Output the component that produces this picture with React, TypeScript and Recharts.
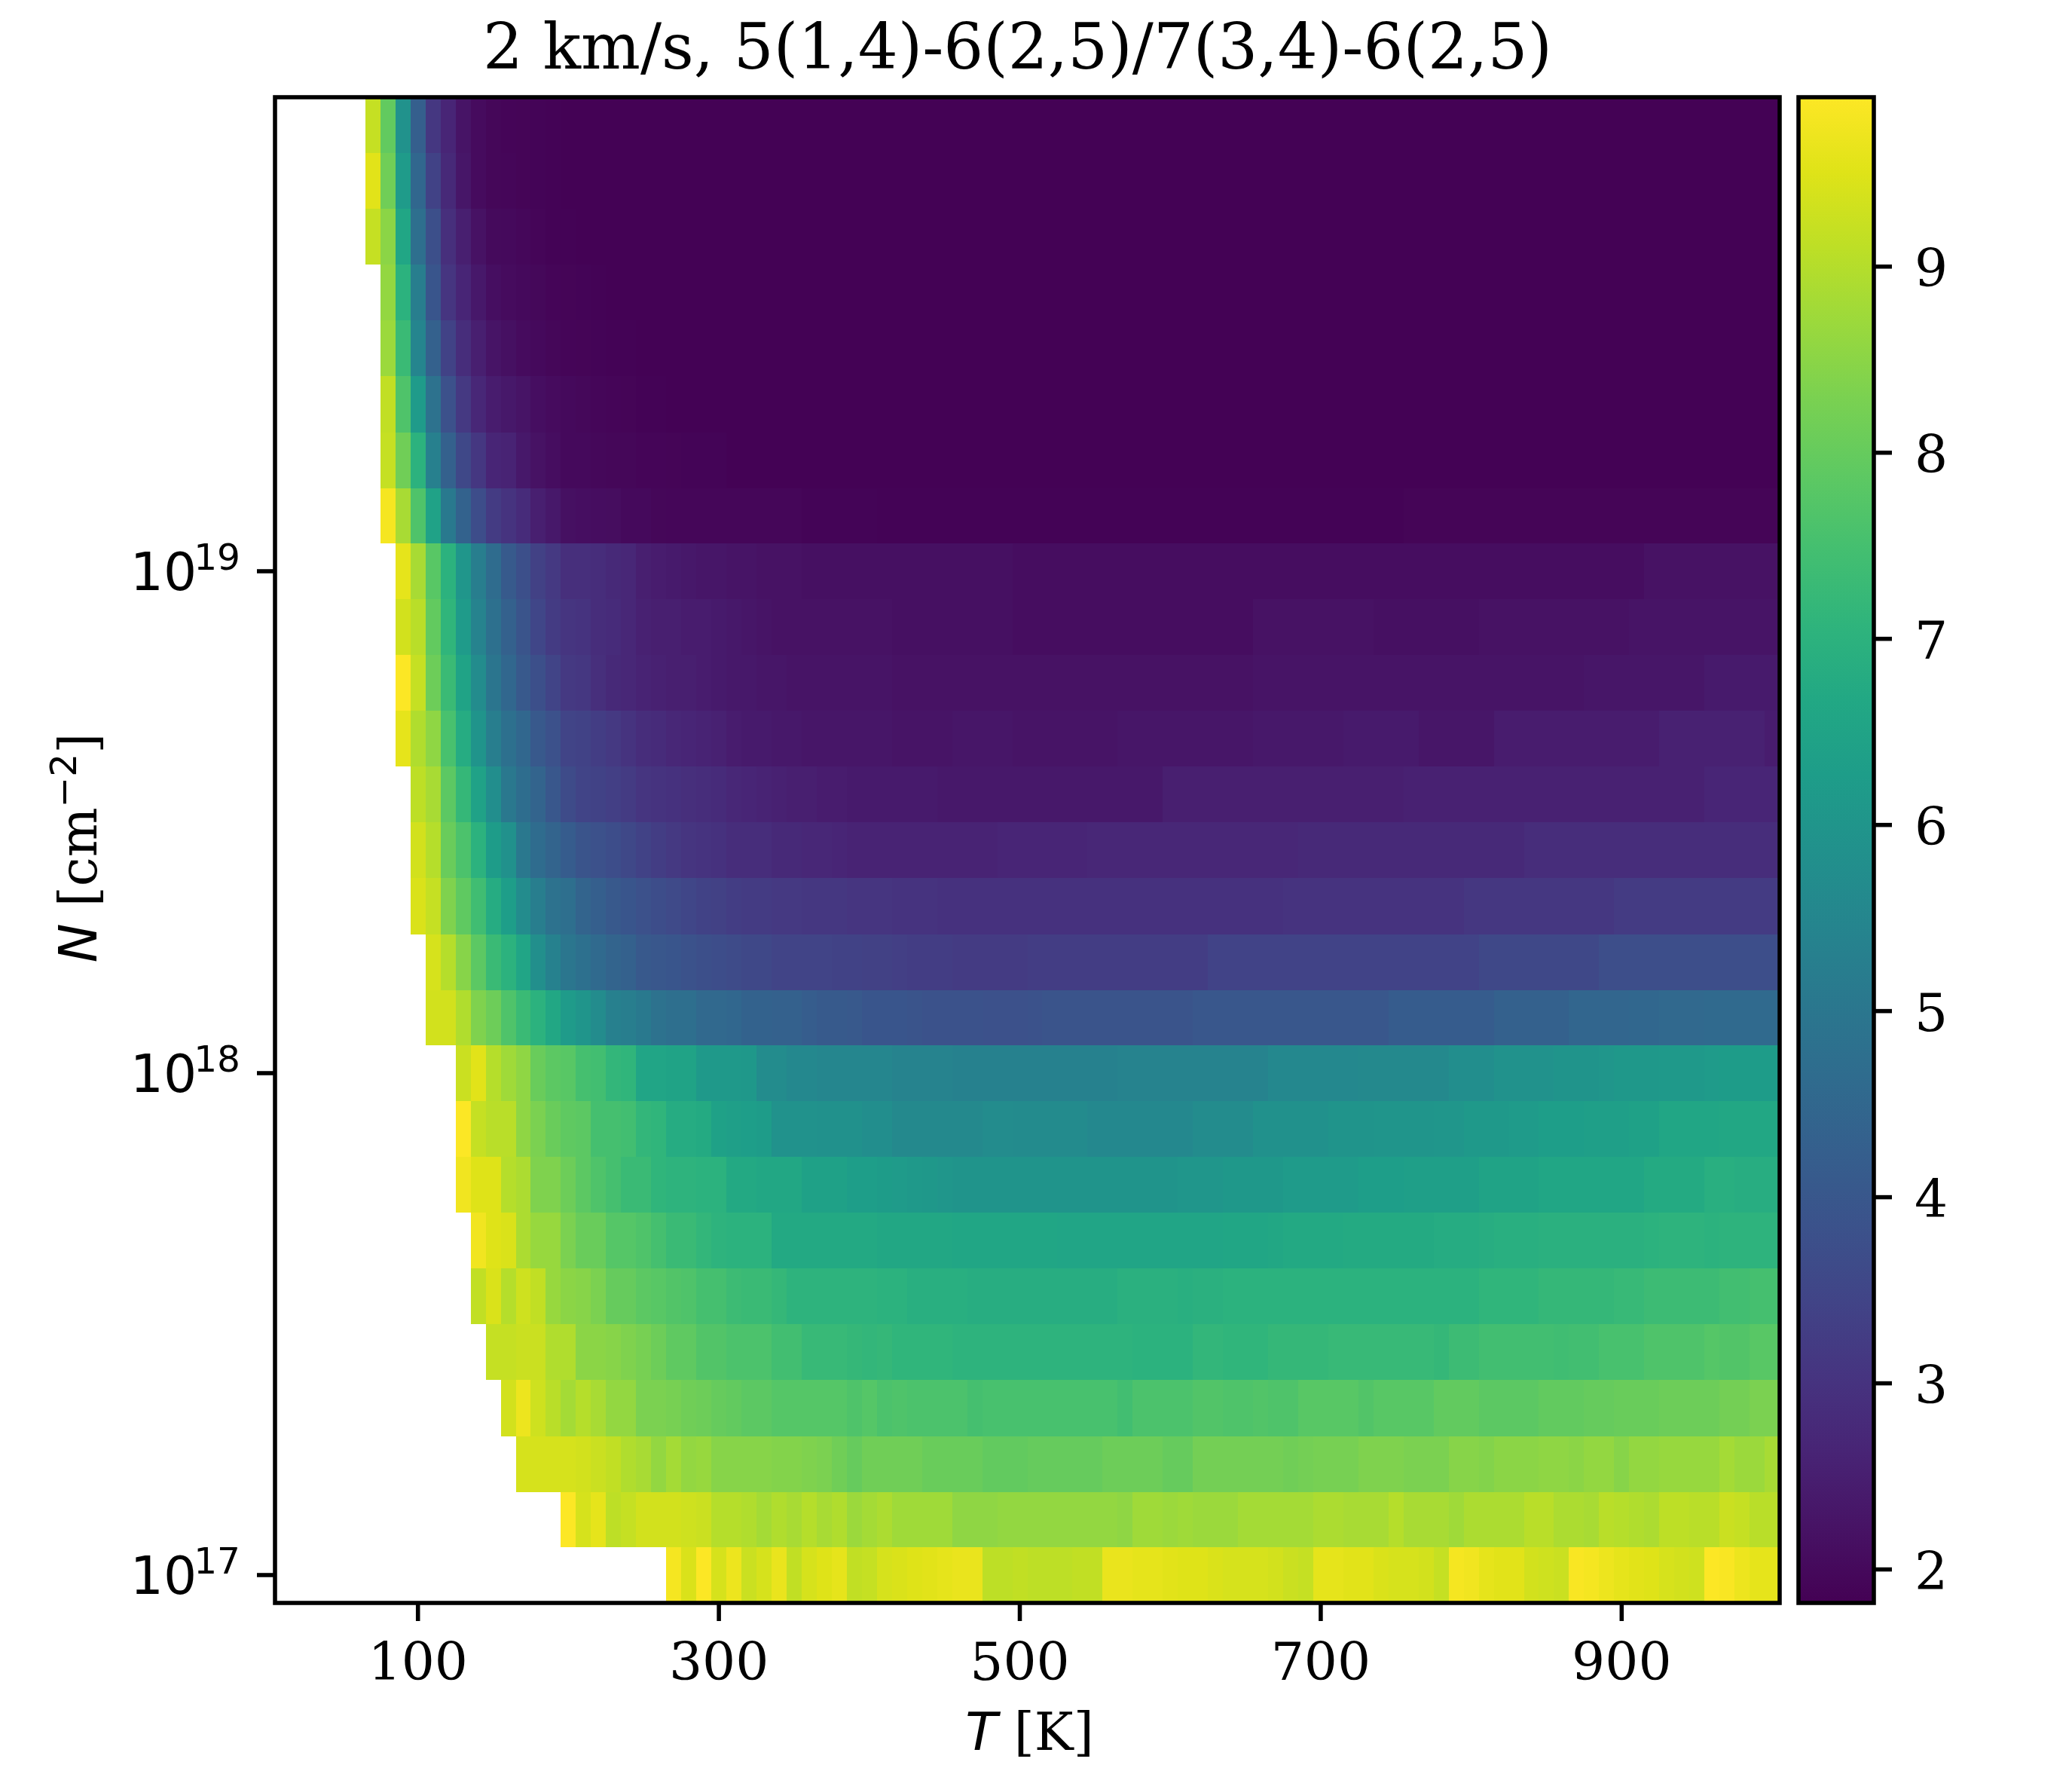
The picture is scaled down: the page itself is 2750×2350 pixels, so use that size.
import { BarChart, Bar, Scatter, ScatterChart, XAxis, YAxis } from "recharts";

// N [cm^-2] of each map row, bottom to top
const columnDensity = [
  1e17, 1.292e17, 1.668e17, 2.154e17, 2.783e17, 3.594e17, 4.642e17, 5.995e17, 7.743e17,
  1e18, 1.292e18, 1.668e18, 2.154e18, 2.783e18, 3.594e18, 4.642e18, 5.995e18, 7.743e18,
  1e19, 1.292e19, 1.668e19, 2.154e19, 2.783e19, 3.594e19, 4.642e19, 5.995e19, 7.743e19,
];

// first temperature [K] with a value in each row, the rest follow every 10 K
const firstTemp = [270, 200, 170, 160, 150, 140, 140, 130, 130, 130, 110, 110, 100, 100, 100, 90, 90, 90, 90, 80, 80, 80, 80, 80, 70, 70, 70];

const row0 = [9.8,9.45,9.9,9.4,
  9.7,9.25,9.4,9.65,9.15,9.4,9.5,9.6,9.15,9.2,
  9.4,9.45,9.5,9.55,9.6,9.65,9.65,9.1,9.1,9.15,
  9.1,9.1,9.1,9.15,9.15,9.65,9.65,9.6,9.6,9.55,
  9.5,9.5,9.45,9.4,9.4,9.4,9.35,9.25,9.2,9.6,
  9.6,9.55,9.55,9.45,9.4,9.4,9.35,9.2,9.8,9.75,
  9.6,9.55,9.55,9.35,9.3,9.25,9.85,9.8,9.7,9.6,
  9.55,9.5,9.4,9.35,9.3,9.9,9.85,9.7,9.6,9.6];
const row1 = [9.9,
  9.4,9.6,9.1,9.2,9.35,9.35,9.35,9.3,9.25,9.0,
  9.0,8.95,8.8,8.95,8.85,9.0,8.85,8.95,8.7,8.8,
  8.9,8.75,8.75,8.75,8.75,8.55,8.55,8.55,8.6,8.6,
  8.6,8.6,8.6,8.6,8.6,8.6,8.55,8.75,8.75,8.7,
  8.75,8.7,8.7,8.7,8.8,8.8,8.8,8.8,8.8,8.9,
  8.9,8.85,8.85,8.85,9.0,8.85,8.85,8.85,8.75,8.9,
  8.9,8.9,8.9,9.05,9.05,8.9,8.9,8.85,9.05,9.0,
  8.95,8.9,9.1,9.1,9.05,9.05,9.25,9.2,9.05,9.05];
const row2 = [9.4,9.4,9.4,9.4,
  9.35,9.25,9.15,8.95,8.85,8.6,8.8,8.6,8.65,8.45,
  8.45,8.45,8.45,8.4,8.4,8.35,8.3,8.15,8.0,8.15,
  8.15,8.15,8.15,8.05,8.05,8.05,8.05,7.95,7.95,7.95,
  8.0,8.0,8.0,8.0,8.0,8.1,8.1,8.1,8.1,8.0,
  8.0,8.2,8.2,8.2,8.2,8.2,8.2,8.15,8.2,8.25,
  8.25,8.25,8.35,8.35,8.35,8.3,8.3,8.3,8.45,8.45,
  8.4,8.5,8.5,8.5,8.55,8.55,8.5,8.6,8.6,8.45,
  8.6,8.6,8.65,8.65,8.65,8.65,8.8,8.7,8.7,8.85];
const row3 = [9.35,9.7,9.3,9.05,8.8,
  9.0,8.85,8.6,8.6,8.3,8.3,8.25,8.15,8.1,8.0,
  7.95,7.85,7.85,7.75,7.75,7.75,7.75,7.75,7.65,7.75,
  7.6,7.65,7.6,7.6,7.6,7.6,7.5,7.55,7.55,7.55,
  7.55,7.55,7.55,7.55,7.55,7.55,7.45,7.6,7.6,7.6,
  7.6,7.7,7.7,7.65,7.65,7.7,7.65,7.65,7.8,7.8,
  7.8,7.8,7.7,7.8,7.8,7.8,7.8,7.95,7.95,7.95,
  7.85,7.85,7.85,7.85,7.95,7.95,7.95,8.0,8.0,8.05,
  8.05,8.05,8.1,8.1,8.1,8.1,8.2,8.2,8.3,8.3];
const row4 = [9.2,9.2,9.25,9.25,8.95,8.95,
  8.5,8.5,8.45,8.35,8.25,8.1,7.9,7.9,7.7,7.7,
  7.6,7.6,7.6,7.45,7.45,7.25,7.25,7.25,7.2,7.15,
  7.2,7.1,7.1,7.1,7.1,7.05,7.05,7.05,7.05,7.05,
  7.05,7.05,7.05,7.05,7.05,7.05,7.05,7.0,7.0,7.0,
  7.0,7.15,7.15,7.1,7.1,7.1,7.2,7.2,7.2,7.2,
  7.25,7.25,7.25,7.25,7.25,7.25,7.25,7.2,7.35,7.35,
  7.45,7.45,7.45,7.45,7.45,7.4,7.45,7.45,7.55,7.55,
  7.55,7.65,7.65,7.65,7.65,7.75,7.7,7.7,7.8,7.8];
const row5 = [9.15,9.45,9.0,9.3,9.15,8.65,8.5,
  8.45,8.3,8.0,8.0,7.85,7.8,7.7,7.65,7.5,7.5,
  7.35,7.3,7.3,7.2,7.05,7.05,7.05,7.05,7.05,7.05,
  7.0,7.0,6.9,6.9,6.9,6.9,6.85,6.85,6.85,6.85,
  6.85,6.85,6.85,6.85,6.85,6.85,6.95,6.95,6.95,6.95,
  6.9,6.95,6.95,7.0,7.0,7.0,7.0,7.0,7.0,7.0,
  7.0,7.0,7.0,7.0,7.0,7.0,7.0,7.0,7.0,7.0,
  7.1,7.1,7.1,7.1,7.2,7.2,7.2,7.2,7.2,7.25,
  7.25,7.35,7.35,7.35,7.35,7.35,7.45,7.45,7.5,7.5];
const row6 = [9.75,9.5,9.45,8.9,8.65,8.65,8.3,
  8.05,8.05,7.75,7.75,7.65,7.5,7.3,7.3,7.15,7.05,
  7.0,7.0,7.0,6.7,6.7,6.7,6.7,6.7,6.7,6.7,
  6.65,6.65,6.65,6.65,6.65,6.6,6.6,6.6,6.6,6.6,
  6.6,6.6,6.55,6.55,6.55,6.55,6.55,6.55,6.55,6.55,
  6.55,6.55,6.55,6.6,6.6,6.6,6.65,6.7,6.7,6.7,
  6.7,6.75,6.75,6.75,6.75,6.75,6.75,6.8,6.8,6.8,
  6.85,6.9,6.9,6.9,6.95,6.95,6.95,6.95,6.95,6.95,
  6.95,7.0,7.05,7.05,7.05,7.0,7.05,7.05,7.05,7.05];
const row7 = [9.75,9.5,9.5,9.0,8.9,8.35,8.35,8.1,
  7.85,7.65,7.5,7.3,7.3,7.1,7.05,7.05,7.0,7.0,
  6.7,6.7,6.65,6.65,6.65,6.4,6.4,6.4,6.3,6.3,
  6.25,6.2,6.15,6.1,6.05,5.95,5.95,5.95,5.95,5.95,
  5.95,5.95,5.95,5.95,5.95,5.95,5.95,5.95,5.95,5.95,
  6.05,6.05,6.05,6.1,6.1,6.1,6.1,6.2,6.2,6.2,
  6.2,6.2,6.3,6.3,6.3,6.35,6.35,6.35,6.35,6.35,
  6.5,6.5,6.5,6.5,6.6,6.6,6.6,6.6,6.6,6.6,
  6.6,6.75,6.75,6.75,6.75,6.9,6.9,6.85,6.85,6.85];
const row8 = [9.9,9.2,9.05,9.05,8.55,8.3,8.05,7.9,
  7.85,7.5,7.5,7.45,7.15,7.1,6.8,6.8,6.75,6.4,
  6.35,6.3,6.25,5.9,5.9,5.9,5.85,5.85,5.85,5.75,
  5.75,5.6,5.6,5.6,5.6,5.6,5.6,5.7,5.7,5.65,
  5.65,5.65,5.65,5.65,5.55,5.55,5.55,5.55,5.55,5.55,
  5.55,5.7,5.7,5.7,5.7,5.85,5.85,5.85,5.85,5.85,
  5.95,5.95,5.95,6.0,6.0,6.0,6.0,6.05,6.05,6.15,
  6.15,6.15,6.2,6.2,6.3,6.3,6.3,6.35,6.35,6.35,
  6.4,6.4,6.6,6.6,6.6,6.6,6.65,6.65,6.65,6.65];
const row9 = [9.25,9.55,9.0,8.75,8.55,8.05,7.85,7.8,
  7.5,7.45,7.15,7.1,6.55,6.55,6.5,6.5,6.15,6.15,
  6.15,6.1,5.7,5.7,5.55,5.55,5.5,5.5,5.5,5.5,
  5.5,5.4,5.4,5.4,5.4,5.35,5.35,5.35,5.35,5.35,
  5.35,5.35,5.35,5.35,5.35,5.35,5.4,5.4,5.4,5.4,
  5.4,5.4,5.4,5.4,5.4,5.4,5.55,5.55,5.55,5.55,
  5.55,5.55,5.6,5.6,5.6,5.6,5.6,5.6,5.75,5.75,
  5.75,5.9,5.9,5.9,5.9,5.95,5.95,5.95,6.05,6.1,
  6.1,6.1,6.15,6.15,6.15,6.2,6.25,6.25,6.25,6.25];
const row10 = [9.35,9.35,8.95,8.35,8.1,7.65,7.3,7.0,6.65,6.2,
  6.0,5.7,5.3,5.25,5.1,4.85,4.75,4.75,4.55,4.55,
  4.5,4.35,4.35,4.3,4.3,4.2,4.1,4.1,4.05,3.95,
  3.95,3.95,3.9,3.85,3.85,3.85,3.85,3.8,3.8,3.8,
  3.85,3.9,3.9,3.9,3.9,3.9,3.9,3.9,3.9,3.9,
  3.9,4.0,4.0,4.0,4.0,4.0,4.0,4.0,4.0,4.0,
  4.0,4.0,4.0,4.0,4.15,4.15,4.15,4.15,4.15,4.15,
  4.15,4.3,4.3,4.3,4.3,4.3,4.45,4.45,4.45,4.45,
  4.5,4.5,4.55,4.55,4.55,4.6,4.6,4.6,4.6,4.6];
const row11 = [9.4,9.0,8.45,7.85,7.3,7.0,6.55,5.8,5.35,5.0,
  4.8,4.6,4.4,4.3,4.05,4.0,3.95,3.85,3.75,3.7,
  3.65,3.55,3.55,3.45,3.45,3.45,3.45,3.4,3.4,3.35,
  3.35,3.3,3.25,3.25,3.25,3.2,3.2,3.2,3.2,3.2,
  3.25,3.25,3.25,3.25,3.25,3.25,3.25,3.25,3.25,3.25,
  3.25,3.25,3.42,3.42,3.42,3.42,3.42,3.42,3.42,3.42,
  3.42,3.42,3.42,3.42,3.42,3.42,3.42,3.42,3.42,3.42,
  3.55,3.55,3.55,3.55,3.55,3.55,3.55,3.55,3.72,3.72,
  3.72,3.72,3.72,3.72,3.72,3.72,3.72,3.72,3.72,3.72];
const row12 = [9.45,
  9.2,8.35,7.9,7.4,6.8,6.3,5.7,5.25,4.85,4.75,
  4.4,4.25,4.05,3.95,3.8,3.7,3.6,3.5,3.4,3.35,
  3.25,3.2,3.2,3.15,3.15,3.1,3.1,3.1,3.05,3.05,
  3.05,3.0,3.0,3.0,2.95,2.95,2.95,2.95,2.95,2.95,
  2.95,2.95,2.95,2.95,2.95,2.95,2.95,2.95,2.95,2.95,
  2.95,2.95,2.95,2.95,2.95,2.95,2.95,3.0,3.0,3.0,
  3.0,3.0,3.0,3.0,3.0,3.0,3.0,3.0,3.0,3.1,
  3.1,3.1,3.1,3.1,3.1,3.1,3.1,3.1,3.1,3.22,
  3.22,3.22,3.22,3.22,3.22,3.22,3.22,3.22,3.22,3.22];
const row13 = [9.35,
  9.0,8.05,7.6,7.0,6.25,5.85,5.05,4.65,4.4,4.15,
  3.9,3.8,3.7,3.55,3.4,3.25,3.15,3.05,3.0,2.95,
  2.85,2.85,2.85,2.75,2.75,2.7,2.7,2.65,2.6,2.6,
  2.6,2.6,2.6,2.6,2.6,2.6,2.6,2.6,2.65,2.65,
  2.65,2.65,2.65,2.65,2.7,2.7,2.7,2.7,2.7,2.7,
  2.7,2.7,2.7,2.7,2.7,2.7,2.7,2.7,2.75,2.75,
  2.75,2.75,2.75,2.75,2.75,2.75,2.75,2.75,2.75,2.75,
  2.75,2.75,2.75,2.85,2.85,2.85,2.85,2.85,2.85,2.85,
  2.85,2.85,2.85,2.85,2.85,2.85,2.85,2.85,2.85,2.85];
const row14 = [9.1,
  8.85,7.85,7.2,6.45,5.75,5.05,4.7,4.4,4.0,3.65,
  3.45,3.4,3.3,3.2,3.05,3.0,2.95,2.9,2.85,2.8,
  2.7,2.65,2.6,2.55,2.5,2.5,2.45,2.45,2.4,2.4,
  2.4,2.4,2.4,2.4,2.35,2.35,2.35,2.35,2.35,2.35,
  2.35,2.35,2.35,2.35,2.35,2.35,2.35,2.35,2.35,2.5,
  2.5,2.5,2.5,2.5,2.5,2.5,2.5,2.5,2.5,2.5,
  2.5,2.5,2.5,2.5,2.5,2.55,2.55,2.55,2.55,2.55,
  2.55,2.55,2.55,2.55,2.55,2.55,2.55,2.55,2.55,2.55,
  2.55,2.55,2.55,2.55,2.55,2.65,2.65,2.65,2.65,2.65];
const row15 = [9.6,8.95,
  8.55,7.55,6.8,5.95,5.25,4.8,4.5,4.05,3.8,3.45,
  3.4,3.25,3.15,3.0,2.85,2.8,2.7,2.65,2.6,2.55,
  2.45,2.4,2.4,2.35,2.35,2.3,2.3,2.3,2.3,2.3,
  2.3,2.25,2.25,2.25,2.25,2.3,2.3,2.3,2.3,2.25,
  2.25,2.25,2.25,2.25,2.25,2.25,2.3,2.3,2.3,2.3,
  2.3,2.3,2.3,2.3,2.3,2.35,2.35,2.35,2.35,2.35,
  2.35,2.4,2.4,2.4,2.4,2.4,2.3,2.3,2.3,2.3,
  2.3,2.45,2.45,2.45,2.45,2.45,2.45,2.45,2.45,2.45,
  2.45,2.45,2.55,2.55,2.55,2.55,2.55,2.55,2.55,2.45];
const row16 = [9.9,9.2,
  8.1,7.3,6.5,5.7,4.95,4.5,4.05,3.75,3.45,3.15,
  3.1,2.9,2.75,2.7,2.6,2.55,2.5,2.5,2.45,2.4,
  2.35,2.35,2.3,2.3,2.25,2.25,2.25,2.25,2.25,2.25,
  2.25,2.2,2.2,2.2,2.2,2.2,2.2,2.2,2.2,2.2,
  2.2,2.2,2.2,2.2,2.2,2.2,2.2,2.2,2.2,2.2,
  2.2,2.2,2.2,2.2,2.2,2.25,2.25,2.25,2.25,2.25,
  2.25,2.25,2.25,2.25,2.25,2.25,2.25,2.25,2.25,2.25,
  2.25,2.25,2.25,2.25,2.25,2.25,2.25,2.3,2.3,2.3,
  2.3,2.3,2.3,2.3,2.3,2.4,2.4,2.4,2.4,2.4];
const row17 = [9.35,9.05,
  7.95,7.1,6.2,5.4,4.8,4.3,3.9,3.5,3.2,3.05,
  3.0,2.85,2.8,2.7,2.55,2.5,2.5,2.45,2.45,2.4,
  2.35,2.3,2.25,2.2,2.2,2.2,2.2,2.2,2.2,2.2,
  2.2,2.15,2.15,2.15,2.15,2.15,2.15,2.15,2.15,2.1,
  2.1,2.1,2.1,2.1,2.1,2.1,2.1,2.1,2.1,2.1,
  2.1,2.1,2.1,2.1,2.1,2.2,2.2,2.2,2.2,2.2,
  2.2,2.2,2.2,2.15,2.15,2.15,2.15,2.15,2.15,2.15,
  2.2,2.2,2.2,2.2,2.2,2.2,2.2,2.2,2.2,2.2,
  2.25,2.25,2.25,2.25,2.25,2.25,2.25,2.25,2.25,2.25];
const row18 = [9.6,8.85,
  7.8,7.0,6.05,5.25,4.65,4.1,3.75,3.35,3.15,2.9,
  2.9,2.85,2.75,2.7,2.5,2.45,2.4,2.35,2.3,2.3,
  2.25,2.25,2.2,2.2,2.2,2.15,2.15,2.15,2.15,2.15,
  2.15,2.15,2.15,2.15,2.15,2.15,2.15,2.15,2.15,2.1,
  2.1,2.1,2.1,2.1,2.1,2.1,2.1,2.1,2.1,2.1,
  2.1,2.1,2.1,2.1,2.1,2.1,2.1,2.1,2.1,2.1,
  2.1,2.1,2.1,2.1,2.1,2.1,2.1,2.1,2.1,2.1,
  2.1,2.1,2.1,2.1,2.1,2.1,2.1,2.1,2.1,2.1,
  2.1,2.2,2.2,2.2,2.2,2.2,2.2,2.2,2.2,2.2];
const row19 = [9.8,8.85,7.65,
  6.45,5.1,4.35,3.7,3.2,3.0,2.8,2.5,2.35,2.15,
  2.12,2.1,2.08,2.0,2.0,1.95,1.93,1.93,1.93,1.93,
  1.93,1.93,1.93,1.93,1.93,1.88,1.88,1.88,1.88,1.88,
  1.87,1.87,1.87,1.87,1.87,1.87,1.87,1.87,1.87,1.87,
  1.87,1.87,1.87,1.87,1.87,1.87,1.87,1.87,1.87,1.87,
  1.87,1.87,1.87,1.87,1.87,1.87,1.87,1.87,1.87,1.87,
  1.87,1.87,1.87,1.87,1.87,1.9,1.9,1.9,1.9,1.9,
  1.9,1.9,1.9,1.9,1.9,1.9,1.9,1.9,1.9,1.9,
  1.9,1.9,1.9,1.9,1.9,1.9,1.9,1.9,1.9,1.9];
const row20 = [9.2,8.15,7.0,
  5.3,4.3,3.55,3.1,2.65,2.6,2.35,2.2,2.1,2.0,
  2.0,1.97,1.95,1.95,1.92,1.92,1.9,1.88,1.88,1.88,
  1.85,1.85,1.85,1.85,1.85,1.85,1.85,1.85,1.85,1.85,
  1.85,1.85,1.85,1.85,1.85,1.85,1.85,1.85,1.85,1.85,
  1.85,1.85,1.85,1.85,1.85,1.85,1.85,1.85,1.85,1.85,
  1.85,1.85,1.85,1.85,1.85,1.85,1.85,1.85,1.85,1.85,
  1.85,1.85,1.85,1.85,1.85,1.85,1.85,1.85,1.85,1.85,
  1.85,1.85,1.85,1.85,1.85,1.85,1.85,1.85,1.85,1.85,
  1.85,1.85,1.85,1.85,1.85,1.85,1.85,1.85,1.85,1.85];
const row21 = [9.15,7.65,6.2,
  4.85,3.8,3.15,2.7,2.45,2.35,2.25,2.12,2.05,2.0,
  1.97,1.94,1.92,1.9,1.87,1.87,1.85,1.85,1.85,1.85,
  1.85,1.85,1.85,1.85,1.85,1.85,1.85,1.85,1.85,1.85,
  1.85,1.85,1.85,1.85,1.85,1.85,1.85,1.85,1.85,1.85,
  1.85,1.85,1.85,1.85,1.85,1.85,1.85,1.85,1.85,1.85,
  1.85,1.85,1.85,1.85,1.85,1.85,1.85,1.85,1.85,1.85,
  1.85,1.85,1.85,1.85,1.85,1.85,1.85,1.85,1.85,1.85,
  1.85,1.85,1.85,1.85,1.85,1.85,1.85,1.85,1.85,1.85,
  1.85,1.85,1.85,1.85,1.85,1.85,1.85,1.85,1.85,1.85];
const row22 = [8.7,7.3,5.45,
  4.3,3.4,2.85,2.5,2.25,2.15,2.05,2.0,1.95,1.92,
  1.9,1.88,1.87,1.87,1.85,1.85,1.85,1.85,1.85,1.85,
  1.85,1.85,1.85,1.85,1.85,1.85,1.85,1.85,1.85,1.85,
  1.85,1.85,1.85,1.85,1.85,1.85,1.85,1.85,1.85,1.85,
  1.85,1.85,1.85,1.85,1.85,1.85,1.85,1.85,1.85,1.85,
  1.85,1.85,1.85,1.85,1.85,1.85,1.85,1.85,1.85,1.85,
  1.85,1.85,1.85,1.85,1.85,1.85,1.85,1.85,1.85,1.85,
  1.85,1.85,1.85,1.85,1.85,1.85,1.85,1.85,1.85,1.85,
  1.85,1.85,1.85,1.85,1.85,1.85,1.85,1.85,1.85,1.85];
const row23 = [8.6,7.0,5.25,
  3.95,3.05,2.65,2.35,2.12,2.05,2.0,1.97,1.92,1.9,
  1.88,1.87,1.85,1.85,1.85,1.85,1.85,1.85,1.85,1.85,
  1.85,1.85,1.85,1.85,1.85,1.85,1.85,1.85,1.85,1.85,
  1.85,1.85,1.85,1.85,1.85,1.85,1.85,1.85,1.85,1.85,
  1.85,1.85,1.85,1.85,1.85,1.85,1.85,1.85,1.85,1.85,
  1.85,1.85,1.85,1.85,1.85,1.85,1.85,1.85,1.85,1.85,
  1.85,1.85,1.85,1.85,1.85,1.85,1.85,1.85,1.85,1.85,
  1.85,1.85,1.85,1.85,1.85,1.85,1.85,1.85,1.85,1.85,
  1.85,1.85,1.85,1.85,1.85,1.85,1.85,1.85,1.85,1.85];
const row24 = [9.2,8.5,6.6,4.75,
  3.75,2.9,2.5,2.2,2.02,2.0,1.96,1.92,1.87,1.86,
  1.85,1.85,1.85,1.85,1.85,1.85,1.85,1.85,1.85,1.85,
  1.85,1.85,1.85,1.85,1.85,1.85,1.85,1.85,1.85,1.85,
  1.85,1.85,1.85,1.85,1.85,1.85,1.85,1.85,1.85,1.85,
  1.85,1.85,1.85,1.85,1.85,1.85,1.85,1.85,1.85,1.85,
  1.85,1.85,1.85,1.85,1.85,1.85,1.85,1.85,1.85,1.85,
  1.85,1.85,1.85,1.85,1.85,1.85,1.85,1.85,1.85,1.85,
  1.85,1.85,1.85,1.85,1.85,1.85,1.85,1.85,1.85,1.85,
  1.85,1.85,1.85,1.85,1.85,1.85,1.85,1.85,1.85,1.85];
const row25 = [9.55,8.15,6.2,4.5,
  3.4,2.75,2.3,2.05,1.95,1.93,1.9,1.88,1.86,1.85,
  1.85,1.85,1.85,1.85,1.85,1.85,1.85,1.85,1.85,1.85,
  1.85,1.85,1.85,1.85,1.85,1.85,1.85,1.85,1.85,1.85,
  1.85,1.85,1.85,1.85,1.85,1.85,1.85,1.85,1.85,1.85,
  1.85,1.85,1.85,1.85,1.85,1.85,1.85,1.85,1.85,1.85,
  1.85,1.85,1.85,1.85,1.85,1.85,1.85,1.85,1.85,1.85,
  1.85,1.85,1.85,1.85,1.85,1.85,1.85,1.85,1.85,1.85,
  1.85,1.85,1.85,1.85,1.85,1.85,1.85,1.85,1.85,1.85,
  1.85,1.85,1.85,1.85,1.85,1.85,1.85,1.85,1.85,1.85];
const row26 = [9.2,7.95,5.9,4.25,
  3.1,2.65,2.25,2.05,1.95,1.92,1.9,1.88,1.86,1.85,
  1.85,1.85,1.85,1.85,1.85,1.85,1.85,1.85,1.85,1.85,
  1.85,1.85,1.85,1.85,1.85,1.85,1.85,1.85,1.85,1.85,
  1.85,1.85,1.85,1.85,1.85,1.85,1.85,1.85,1.85,1.85,
  1.85,1.85,1.85,1.85,1.85,1.85,1.85,1.85,1.85,1.85,
  1.85,1.85,1.85,1.85,1.85,1.85,1.85,1.85,1.85,1.85,
  1.85,1.85,1.85,1.85,1.85,1.85,1.85,1.85,1.85,1.85,
  1.85,1.85,1.85,1.85,1.85,1.85,1.85,1.85,1.85,1.85,
  1.85,1.85,1.85,1.85,1.85,1.85,1.85,1.85,1.85,1.85];

const rows = [
  row0, row1, row2, row3, row4, row5, row6, row7, row8,
  row9, row10, row11, row12, row13, row14, row15, row16, row17,
  row18, row19, row20, row21, row22, row23, row24, row25, row26,
];

const tempTicks = [100, 300, 500, 700, 900];
const densityTicks = [1e17, 1e18, 1e19];
const colorTicks = [2, 3, 4, 5, 6, 7, 8, 9];
const colorRange = [1.82, 9.91];

const viridis = [
  "#440154", "#471365", "#482475", "#463480", "#414487", "#3b528b", "#355f8d",
  "#2f6c8e", "#2a788e", "#25858e", "#21918c", "#1e9d89", "#22a884", "#2fb47c",
  "#44bf70", "#5ec962", "#7ad151", "#9bd93c", "#bddf26", "#dfe318", "#fde725",
];

const W = 2750;
const H = 2350;
const LEFT = 365;
const RIGHT = 2362;
const TOP = 129;
const BOTTOM = 2127;
const BAR_LEFT = 2387;
const BAR_RIGHT = 2487;
const CELL_W = (RIGHT - LEFT) / 100;
const CELL_H = (BOTTOM - TOP) / 27;
const SPINE = 5.55;
const TICK_FONT = 69.4;
const SERIF = "'DejaVu Serif'";
const SANS = "'DejaVu Sans'";

function hex(c: string) {
  return [1, 3, 5].map((i) => parseInt(c.slice(i, i + 2), 16));
}

function colorOf(v: number) {
  const t = Math.min(1, Math.max(0, (v - colorRange[0]) / (colorRange[1] - colorRange[0]))) * (viridis.length - 1);
  const i = Math.min(viridis.length - 2, Math.floor(t));
  const a = hex(viridis[i]);
  const b = hex(viridis[i + 1]);
  const m = a.map((x, k) => Math.round(x + (b[k] - x) * (t - i)));
  return `rgb(${m[0]},${m[1]},${m[2]})`;
}

const cells = rows.flatMap((row, i) =>
  row.map((v, j) => ({ t: firstTemp[i] + 10 * j, n: columnDensity[i], v }))
);

const Cell = ({ cx, cy, payload }: any) => (
  <rect
    x={cx - CELL_W / 2}
    y={cy - CELL_H / 2}
    width={CELL_W + 0.5}
    height={CELL_H + 0.5}
    fill={colorOf(payload.v)}
    shapeRendering="crispEdges"
  />
);

const TempTick = ({ x, y, payload }: any) => (
  <text x={x} y={y + 76} textAnchor="middle" fontFamily={SERIF} fontSize={TICK_FONT} fill="#000">
    {payload.value}
  </text>
);

const DensityTick = ({ x, y, payload }: any) => (
  <text x={x - 20} y={y + 25} textAnchor="end" fontFamily={SANS} fontSize={TICK_FONT} fill="#000">
    10
    <tspan dx={-4} dy={-27} fontSize={48.6}>
      {Math.round(Math.log10(payload.value))}
    </tspan>
  </text>
);

const ColorTick = ({ x, y, payload }: any) => (
  <text x={x + 28} y={y + 26} textAnchor="start" fontFamily={SERIF} fontSize={TICK_FONT} fill="#000">
    {payload.value}
  </text>
);

const layer = { position: "absolute", left: 0, top: 0 } as const;

export default function App() {
  return (
    <div style={{ ...layer, width: W, height: H, background: "#fff" }}>
      <div style={layer}>
        <ScatterChart width={W} height={H} margin={{ top: TOP, right: W - RIGHT, bottom: 0, left: 0 }}>
          <XAxis
            type="number"
            dataKey="t"
            domain={[5, 1005]}
            ticks={tempTicks}
            interval={0}
            height={H - BOTTOM}
            allowDataOverflow
            axisLine={false}
            tickSize={24}
            tickLine={{ stroke: "#000", strokeWidth: SPINE }}
            tick={<TempTick />}
          />
          <YAxis
            type="number"
            dataKey="n"
            scale="log"
            domain={[8.799e16, 8.799e19]}
            ticks={densityTicks}
            interval={0}
            width={LEFT}
            allowDataOverflow
            axisLine={false}
            tickSize={24}
            tickLine={{ stroke: "#000", strokeWidth: SPINE }}
            tick={<DensityTick />}
          />
          <Scatter data={cells} shape={<Cell />} isAnimationActive={false} />
        </ScatterChart>
      </div>

      <div style={layer}>
        <BarChart
          width={W}
          height={H}
          data={[{ name: "scale", range: colorRange }]}
          margin={{ top: TOP, right: 0, bottom: H - BOTTOM, left: BAR_LEFT }}
          barCategoryGap={0}
        >
          <defs>
            <linearGradient id="viridisBar" x1="0" y1="1" x2="0" y2="0">
              {viridis.map((c, i) => (
                <stop key={c} offset={`${(i / (viridis.length - 1)) * 100}%`} stopColor={c} />
              ))}
            </linearGradient>
          </defs>
          <XAxis dataKey="name" hide />
          <YAxis
            orientation="right"
            type="number"
            domain={colorRange}
            ticks={colorTicks}
            interval={0}
            width={W - BAR_RIGHT}
            allowDataOverflow
            axisLine={false}
            tickSize={24}
            tickLine={{ stroke: "#000", strokeWidth: SPINE }}
            tick={<ColorTick />}
          />
          <Bar dataKey="range" fill="url(#viridisBar)" isAnimationActive={false} />
        </BarChart>
      </div>

      {/* spines and the text around the axes sit over both charts */}
      <svg width={W} height={H} style={layer}>
        <rect x={LEFT} y={TOP} width={RIGHT - LEFT} height={BOTTOM - TOP} fill="none" stroke="#000" strokeWidth={SPINE} />
        <rect x={BAR_LEFT} y={TOP} width={BAR_RIGHT - BAR_LEFT} height={BOTTOM - TOP} fill="none" stroke="#000" strokeWidth={SPINE} />
        <text x={(LEFT + RIGHT) / 2 - 13} y={91} textAnchor="middle" fontFamily={SERIF} fontSize={83.3} fill="#000">
          2 km/s, 5(1,4)-6(2,5)/7(3,4)-6(2,5)
        </text>
        <text x={(LEFT + RIGHT) / 2 + 3} y={2322} textAnchor="middle" fontFamily={SERIF} fontSize={TICK_FONT} fill="#000">
          <tspan fontFamily={SANS} fontStyle="italic">T</tspan> [K]
        </text>
        <text
          transform={`translate(128 ${(TOP + BOTTOM) / 2 - 3}) rotate(-90)`}
          textAnchor="middle"
          fontFamily={SERIF}
          fontSize={TICK_FONT}
          fill="#000"
        >
          <tspan fontFamily={SANS} fontStyle="italic">N</tspan> [cm
          <tspan dy={-27} fontFamily={SANS} fontSize={48.6}>−2</tspan>
          <tspan dy={27}>]</tspan>
        </text>
      </svg>
    </div>
  );
}
